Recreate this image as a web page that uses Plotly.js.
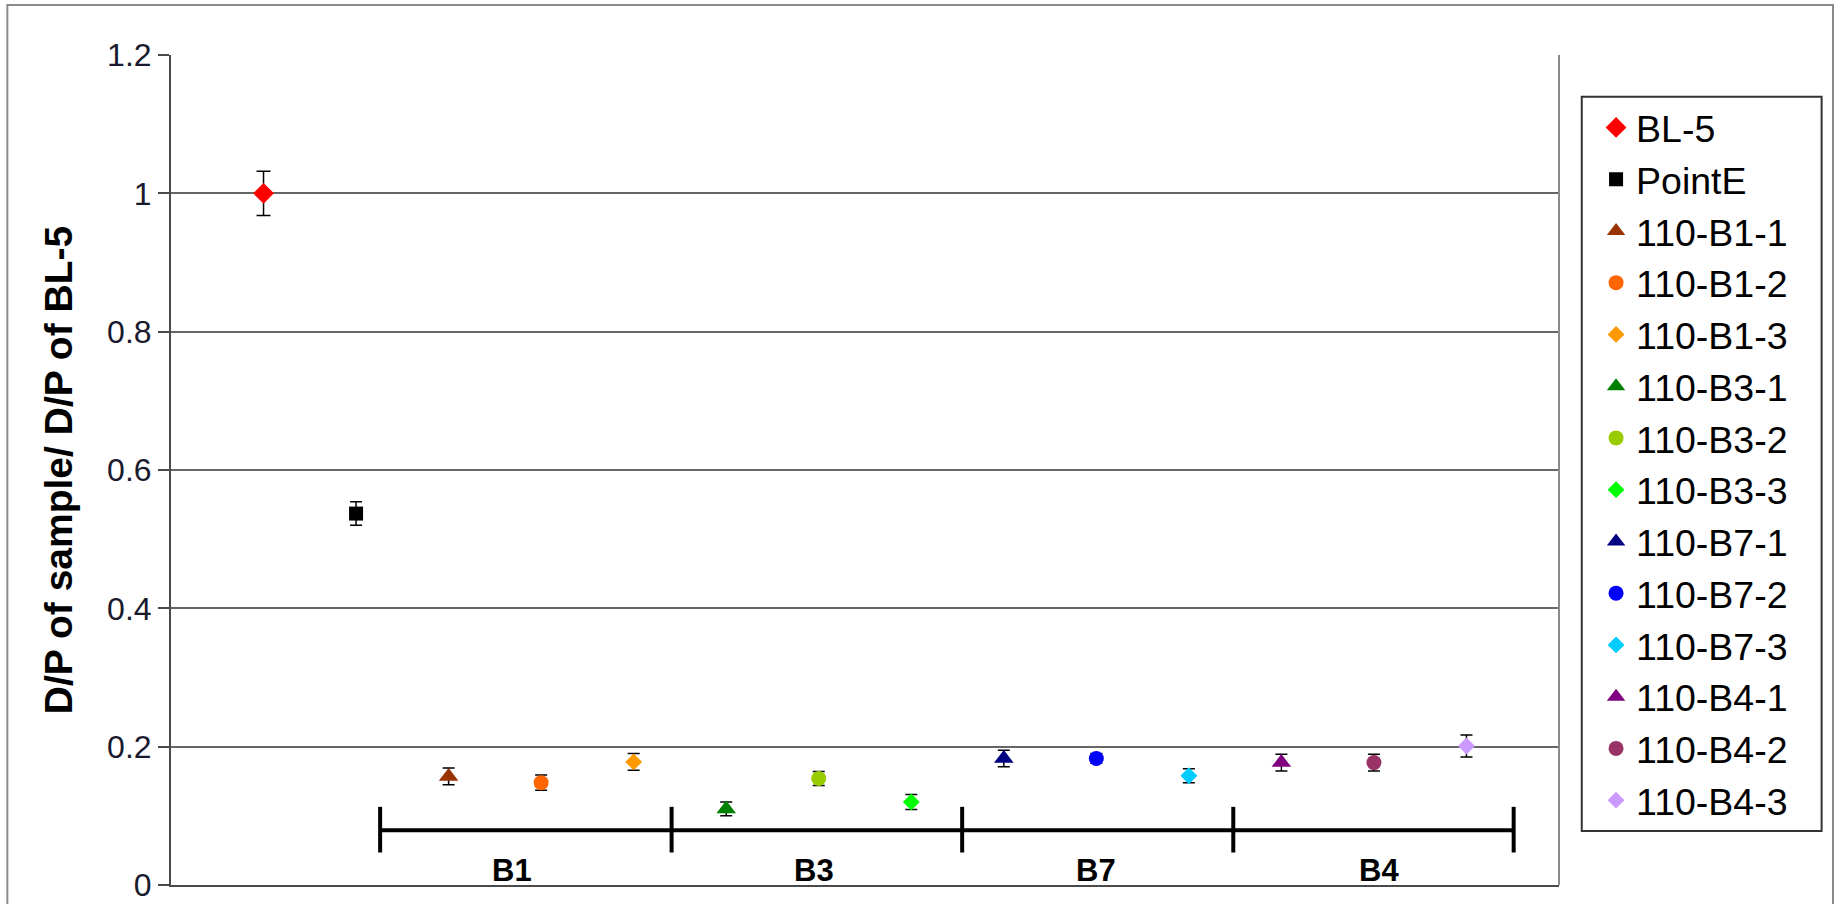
<!DOCTYPE html>
<html>
<head>
<meta charset="utf-8">
<script src="https://cdn.plot.ly/plotly-3.0.1.min.js"></script>
<style>
  html, body { margin: 0; padding: 0; background: #ffffff; }
  #chart { width: 1835px; height: 904px; }
</style>
</head>
<body>
<div id="chart"></div>
<script>
// ---- data ----
const seriesNames = ["BL-5", "PointE", "110-B1-1", "110-B1-2", "110-B1-3",
  "110-B3-1", "110-B3-2", "110-B3-3", "110-B7-1", "110-B7-2", "110-B7-3",
  "110-B4-1", "110-B4-2", "110-B4-3"];
const sampleIndex = [1, 2, 3, 4, 5, 6, 7, 8, 9, 10, 11, 12, 13, 14];
const ratioValues = [1.000, 0.537, 0.157, 0.148, 0.178, 0.110, 0.154, 0.120,
  0.183, 0.183, 0.158, 0.177, 0.177, 0.201];
const ratioErrors = [0.032, 0.017, 0.012, 0.011, 0.012, 0.010, 0.010, 0.011,
  0.012, 0.007, 0.010, 0.012, 0.012, 0.016];
const markerColors = ["#FF0000", "#000000", "#993300", "#FF6600", "#FF9900",
  "#008000", "#99CC00", "#00FF00", "#000080", "#0000FF", "#00CCFF",
  "#800080", "#993366", "#CC99FF"];
const markerSymbols = ["diamond", "square", "triangle-up", "circle", "diamond",
  "triangle-up", "circle", "diamond", "triangle-up", "circle", "diamond",
  "triangle-up", "circle", "diamond"];
const yTickValues = [0, 0.2, 0.4, 0.6, 0.8, 1, 1.2];
const yTickLabels = ["0", "0.2", "0.4", "0.6", "0.8", "1", "1.2"];
const groupNames = ["B1", "B3", "B7", "B4"];
const groupBounds = [2.26, 5.41, 8.55, 11.48, 14.51];
const groupLabelX = [3.68, 6.95, 10.0, 13.05];

// ---- styling ----
const FONT = "Liberation Sans, Arial, sans-serif";
const markerSizes = {"diamond": 13, "square": 14, "triangle-up": 17, "circle": 15};

const traces = seriesNames.map((name, i) => ({
  type: "scatter",
  mode: "markers",
  name: name,
  x: [sampleIndex[i]],
  y: [ratioValues[i]],
  error_y: {type: "data", array: [ratioErrors[i]], visible: true,
            color: "#000000", thickness: 1.5, width: i === 0 ? 7 : 6},
  marker: {color: markerColors[i], symbol: markerSymbols[i],
           size: i === 0 ? 16 : markerSizes[markerSymbols[i]],
           line: {width: 0}}
}));

const shapes = [];
// outer chart border
shapes.push({type: "rect", xref: "paper", yref: "paper",
  x0: -0.1179, x1: 1.1974, y0: -0.06, y1: 1.0602,
  line: {color: "#8a8a8a", width: 2}, fillcolor: "rgba(0,0,0,0)"});
// right border of plot area
shapes.push({type: "line", xref: "paper", yref: "paper",
  x0: 1, x1: 1, y0: 0, y1: 1, line: {color: "#8a8a8a", width: 2}});
// legend box
shapes.push({type: "rect", xref: "paper", yref: "paper",
  x0: 1.0164, x1: 1.1892, y0: 0.0651, y1: 0.9498,
  line: {color: "#333333", width: 2}, fillcolor: "rgba(0,0,0,0)"});
// group bracket
shapes.push({type: "line", xref: "x", yref: "y",
  x0: groupBounds[0], x1: groupBounds[groupBounds.length - 1], y0: 0.079, y1: 0.079,
  line: {color: "#000000", width: 4}});
groupBounds.forEach(b => shapes.push({type: "line", xref: "x", yref: "y",
  x0: b, x1: b, y0: 0.047, y1: 0.113, line: {color: "#000000", width: 4}}));

const annotations = groupNames.map((g, i) => ({
  x: groupLabelX[i], y: 0.021, xref: "x", yref: "y", text: g, showarrow: false,
  font: {family: FONT, size: 31, color: "#000000", weight: "bold"},
  xanchor: "center", yanchor: "middle"
}));

const layout = {
  width: 1835, height: 904,
  margin: {l: 171, r: 276, t: 55, b: 19, pad: 0},
  paper_bgcolor: "#ffffff", plot_bgcolor: "#ffffff",
  font: {family: FONT, color: "#000000"},
  showlegend: true,
  legend: {x: 1.0267, y: 0.9500, xanchor: "left", yanchor: "top",
           bgcolor: "rgba(0,0,0,0)", borderwidth: 0,
           font: {family: FONT, size: 37.5, color: "#000000"}},
  xaxis: {range: [0, 15], showgrid: false, zeroline: false, showticklabels: false,
          ticks: "", showline: true, linecolor: "#4a4a4a", linewidth: 2, fixedrange: true},
  yaxis: {range: [0, 1.2], tickvals: yTickValues, ticktext: yTickLabels,
          showgrid: true, gridcolor: "#666666", gridwidth: 2, zeroline: false,
          showline: true, linecolor: "#4a4a4a", linewidth: 2,
          ticks: "outside", ticklen: 11, tickwidth: 2, tickcolor: "#4a4a4a",
          ticklabelstandoff: 0,
          tickfont: {family: FONT, size: 32, color: "#1a1a2e"},
          title: {text: "D/P of sample/ D/P of BL-5", standoff: 22,
                  font: {family: FONT, size: 39, color: "#000000", weight: "bold"}},
          automargin: false, fixedrange: true},
  shapes: shapes,
  annotations: annotations
};

Plotly.newPlot("chart", traces, layout, {displayModeBar: false, staticPlot: true});
</script>
</body>
</html>
